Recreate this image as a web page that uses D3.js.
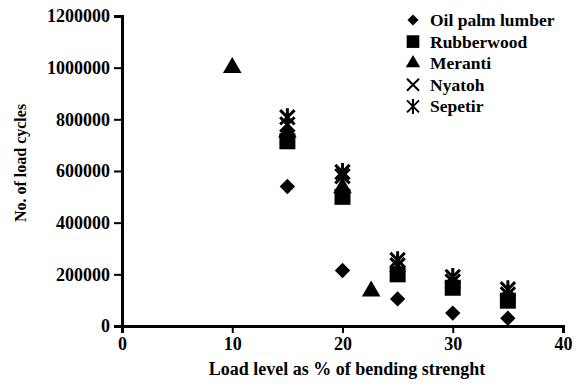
<!DOCTYPE html>
<html>
<head>
<meta charset="utf-8">
<script src="https://cdn.jsdelivr.net/npm/d3@7"></script>
<style>
  body { margin: 0; background: #fff; }
  text { font-family: "Liberation Serif", "DejaVu Serif", serif; font-weight: bold; fill: #000; }
</style>
</head>
<body>
<script>
// data
var species = ["Oil palm lumber", "Rubberwood", "Meranti", "Nyatoh", "Sepetir"];
var oilPalm = [[15, 540000], [20, 215000], [25, 105000], [30, 50000], [35, 30000]];
var rubberwood = [[15, 715000], [20, 500000], [25, 200000], [30, 148000], [35, 98000]];
var meranti = [[10, 1000000], [15, 750000], [20, 535000], [22.6, 135000]];
var nyatoh = [[15, 780000], [20, 580000], [25, 235000], [30, 172000], [35, 122000]];
var sepetir = [[15, 808000], [20, 596000], [25, 255000], [30, 190000], [35, 142000]];
var xTicks = [0, 10, 20, 30, 40];
var yTicks = [0, 200000, 400000, 600000, 800000, 1000000, 1200000];

var width = 579, height = 386;
var margin = {left: 122, top: 16, right: 16, bottom: 60};

var svg = d3.select("body").append("svg")
    .attr("width", width)
    .attr("height", height);

var x = d3.scaleLinear().domain([0, 40]).range([margin.left, 563]);
var y = d3.scaleLinear().domain([0, 1200000]).range([326, margin.top]);

// axes
var xAxis = svg.append("g")
    .attr("transform", "translate(0,326)")
    .call(d3.axisBottom(x).tickValues(xTicks).tickSize(7).tickPadding(4).tickFormat(d3.format("d")));
var yAxis = svg.append("g")
    .attr("transform", "translate(" + margin.left + ",0)")
    .call(d3.axisLeft(y).tickValues(yTicks).tickSize(8).tickPadding(4).tickFormat(d3.format("d")));

[xAxis, yAxis].forEach(function (a) {
    a.select(".domain").attr("stroke", "#000").attr("stroke-width", 3);
    a.selectAll(".tick line").attr("stroke", "#000").attr("stroke-width", 2);
    a.selectAll(".tick text")
        .style("font-family", "Liberation Serif, serif")
        .style("font-weight", "bold")
        .style("font-size", "18px")
        .attr("fill", "#000");
});

// axis titles
svg.append("text")
    .attr("x", 347)
    .attr("y", 375)
    .attr("text-anchor", "middle")
    .style("font-size", "18px")
    .text("Load level as % of bending strenght");

svg.append("text")
    .attr("transform", "translate(26,163) rotate(-90)")
    .attr("text-anchor", "middle")
    .style("font-size", "16px")
    .text("No. of load cycles");

// symbol generators
var diamond = d3.symbol().type(d3.symbolDiamond2).size(150);
var square = d3.symbol().type(d3.symbolSquare).size(256);
var triangle = d3.symbol().type(d3.symbolTriangle).size(150);

function starPath(r) {
    // X with a vertical bar
    var a = r * 0.8;
    return "M" + (-a) + "," + (-a) + "L" + a + "," + a +
        "M" + a + "," + (-a) + "L" + (-a) + "," + a +
        "M0," + (-r) + "L0," + r;
}

function drawSeries(data, kind) {
    var g = svg.append("g");
    var pts = g.selectAll("path").data(data).enter().append("path")
        .attr("transform", function (d) { return "translate(" + x(d[0]) + "," + y(d[1]) + ")"; });
    styleMark(pts, kind);
}

function styleMark(sel, kind) {
    if (kind == 0) sel.attr("d", diamond()).attr("fill", "#000");
    if (kind == 1) sel.attr("d", square()).attr("fill", "#000");
    if (kind == 2) sel.attr("d", triangle()).attr("fill", "#000");
    if (kind == 3) sel.attr("d", starPath(9).split("M0")[0]).attr("fill", "none").attr("stroke", "#000").attr("stroke-width", 3);
    if (kind == 4) sel.attr("d", starPath(9)).attr("fill", "none").attr("stroke", "#000").attr("stroke-width", 3);
}

// draw order: later series on top
drawSeries(oilPalm, 0);
drawSeries(meranti, 2);
drawSeries(rubberwood, 1);
drawSeries(nyatoh, 3);
drawSeries(sepetir, 4);

// legend
var legend = svg.append("g");
species.forEach(function (name, i) {
    var ly = 20 + i * 21.6;
    var m = legend.append("path").attr("transform", "translate(413," + ly + ")");
    styleMark(m, i);
    if (i == 0) m.attr("d", d3.symbol().type(d3.symbolDiamond2).size(80)());
    if (i == 1) m.attr("d", d3.symbol().type(d3.symbolSquare).size(160)());
    if (i == 2) m.attr("d", d3.symbol().type(d3.symbolTriangle).size(90)());
    if (i == 3) m.attr("d", starPath(7.5).split("M0")[0]).attr("stroke-width", 2);
    if (i == 4) m.attr("d", starPath(7.5)).attr("stroke-width", 2);
    legend.append("text")
        .attr("x", 430)
        .attr("y", ly + 6)
        .style("font-size", "17.5px")
        .text(name);
});
</script>
</body>
</html>
